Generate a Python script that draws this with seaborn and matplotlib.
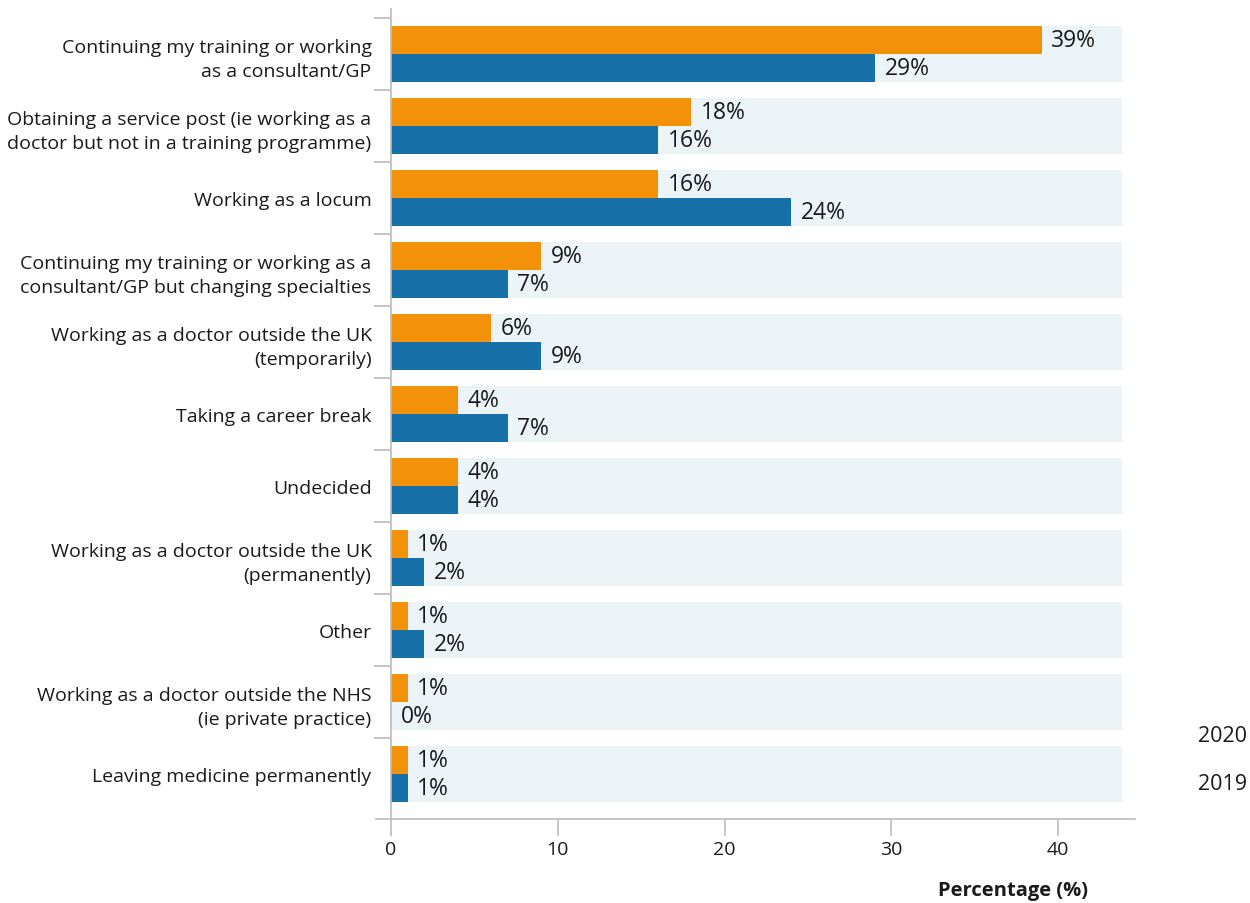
import pandas as pd
import seaborn as sns
import matplotlib.pyplot as plt

# 資料
categories = [
    "Continuing my training or working\nas a consultant/GP",
    "Obtaining a service post (ie working as a\ndoctor but not in a training programme)",
    "Working as a locum",
    "Continuing my training or working as a\nconsultant/GP but changing specialties",
    "Working as a doctor outside the UK\n(temporarily)",
    "Taking a career break",
    "Undecided",
    "Working as a doctor outside the UK\n(permanently)",
    "Other",
    "Working as a doctor outside the NHS\n(ie private practice)",
    "Leaving medicine permanently",
]
pct_2020 = [39, 18, 16, 9, 6, 4, 4, 1, 1, 1, 1]
pct_2019 = [29, 16, 24, 7, 9, 7, 4, 2, 2, 0, 1]
years = ["2020", "2019"]
band_max = 43.8

df = pd.DataFrame({
    "Category": categories * 2,
    "Year": [years[0]] * len(categories) + [years[1]] * len(categories),
    "Pct": pct_2020 + pct_2019,
})
band_df = pd.DataFrame({"Category": categories, "Pct": [band_max] * len(categories)})

sns.set_style("white")
plt.rcParams['font.family'] = ['Open Sans', 'DejaVu Sans']

fig = plt.figure(figsize=(12.5, 9.04), dpi=100)
ax = fig.add_axes([0.3128, 0.0929, 0.908 - 0.3128, 0.989 - 0.0929])

# 背景色帶
sns.barplot(data=band_df, y="Category", x="Pct", order=categories, color="#EDF4F8",
            width=0.78, ax=ax, orient="h", saturation=1, linewidth=0)
sns.barplot(data=df, y="Category", x="Pct", hue="Year", order=categories, hue_order=years,
            palette={"2020": "#F39208", "2019": "#1870A8"}, width=0.78, ax=ax,
            orient="h", saturation=1, legend=False, linewidth=0)

for cont in ax.containers[1:]:
    ax.bar_label(cont, fmt="%g%%", padding=7, fontsize=16.5, color="#1a1a1a")

ax.set_xlim(0, 44.6)
ax.set_ylim(len(categories) - 1 + 0.625, -0.625)
ax.set_xticks([0, 10, 20, 30, 40])
ax.set_yticks([i + 0.5 for i in range(-1, len(categories) - 1)], minor=True)
ax.set_yticks(range(len(categories)))
ax.set_yticklabels(categories)
ax.tick_params(axis="y", which="major", length=0, pad=14, labelsize=14, labelcolor="#1a1a1a")
ax.tick_params(axis="y", which="minor", length=12, color="#BBBBBB", width=1.2, left=True)
ax.tick_params(axis="x", length=12, color="#BBBBBB", width=1.2, labelsize=14,
               labelcolor="#1a1a1a", pad=3, bottom=True)
for t in ax.get_yticklabels():
    t.set_linespacing(1.45)

for s in ["top", "right"]:
    ax.spines[s].set_visible(False)
for s in ["left", "bottom"]:
    ax.spines[s].set_color("#BBBBBB")
    ax.spines[s].set_linewidth(1.2)
ax.spines["bottom"].set_bounds(-0.9, 44.6)

ax.set_ylabel("")
ax.set_xlabel("Percentage (%)", fontsize=14.5, fontweight="bold", color="#1a1a1a")
ax.xaxis.set_label_coords(0.836, -0.075)

fig.text(1198 / 1250, 1 - 737 / 904, "2020", fontsize=15.5, va="center", color="#1a1a1a")
fig.text(1198 / 1250, 1 - 785 / 904, "2019", fontsize=15.5, va="center", color="#1a1a1a")

plt.savefig("out.png", dpi=100)
